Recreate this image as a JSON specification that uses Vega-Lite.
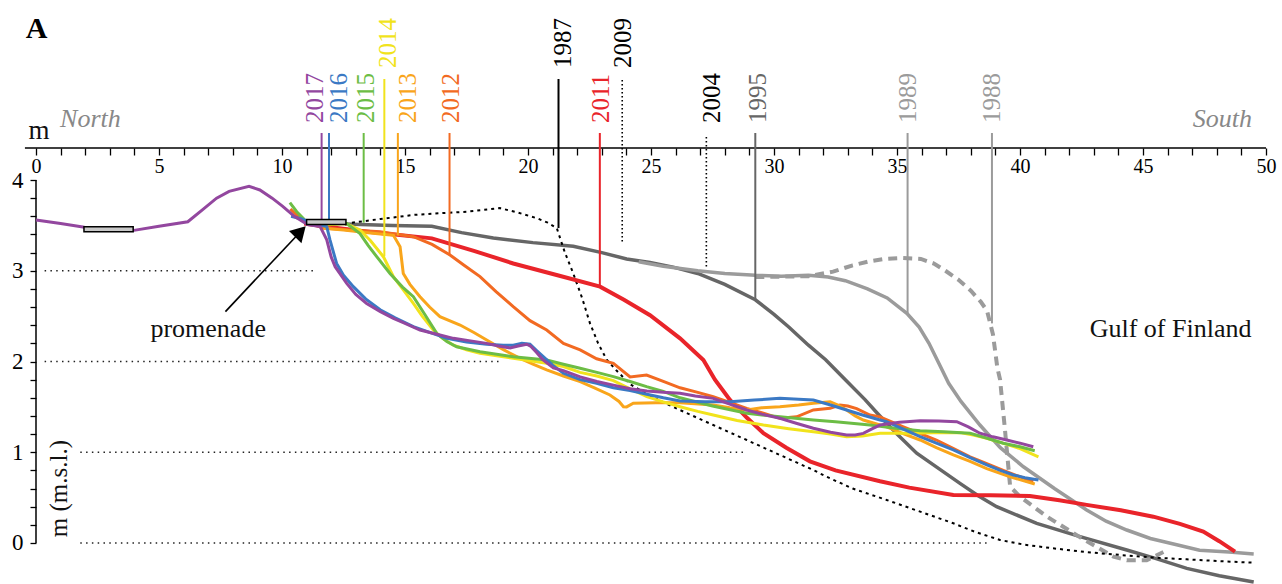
{
"$schema": "https://vega.github.io/schema/vega-lite/v6.json",
"width": 1282, "height": 584, "autosize": {"type": "none"}, "padding": 0,
"background": "white",
"config": {"view": {"stroke": null}, "text": {"font": "Liberation Serif"}},
"datasets": {
"refs": [{"x":0.35,"x2":11.4,"y":3},{"x":0.35,"x2":18.9,"y":2},{"x":1.8,"x2":28.8,"y":1},{"x":1.8,"x2":38.7,"y":0}],
"axl": [{"x":-0.45,"x2":50,"y":4.3526,"y2":4.3526},{"x":0,"x2":0,"y":0,"y2":4}],
"prof": [
{"s":"1995","x":12.56,"y":3.515},{"s":"1995","x":14.5,"y":3.5},{"s":"1995","x":16.09,"y":3.49},{"s":"1995","x":17.3,"y":3.42},{"s":"1995","x":18.59,"y":3.36},{"s":"1995","x":20.2,"y":3.31},{"s":"1995","x":21.84,"y":3.27},{"s":"1995","x":23.0,"y":3.2},{"s":"1995","x":24.01,"y":3.13},{"s":"1995","x":24.96,"y":3.09},{"s":"1995","x":25.9,"y":3.04},{"s":"1995","x":26.9,"y":2.97},{"s":"1995","x":28.0,"y":2.85},{"s":"1995","x":29.24,"y":2.68},{"s":"1995","x":30.0,"y":2.52},{"s":"1995","x":30.6,"y":2.38},{"s":"1995","x":31.4,"y":2.18},{"s":"1995","x":32.1,"y":2.02},{"s":"1995","x":32.9,"y":1.8},{"s":"1995","x":33.7,"y":1.58},{"s":"1995","x":34.2,"y":1.43},{"s":"1995","x":35.0,"y":1.2},{"s":"1995","x":35.8,"y":0.99},{"s":"1995","x":36.7,"y":0.82},{"s":"1995","x":37.56,"y":0.657},{"s":"1995","x":38.3,"y":0.52},{"s":"1995","x":39.05,"y":0.4},{"s":"1995","x":40.68,"y":0.216},{"s":"1995","x":42.44,"y":0.07},{"s":"1995","x":44.34,"y":-0.077},{"s":"1995","x":45.5,"y":-0.17},{"s":"1995","x":46.78,"y":-0.28},{"s":"1995","x":48.1,"y":-0.36},{"s":"1995","x":49.5,"y":-0.43},
{"s":"1989","x":24.5,"y":3.1},{"s":"1989","x":25.5,"y":3.05},{"s":"1989","x":26.9,"y":3.0},{"s":"1989","x":28.0,"y":2.97},{"s":"1989","x":29.24,"y":2.95},{"s":"1989","x":30.3,"y":2.94},{"s":"1989","x":31.4,"y":2.95},{"s":"1989","x":32.2,"y":2.93},{"s":"1989","x":32.9,"y":2.89},{"s":"1989","x":33.8,"y":2.8},{"s":"1989","x":34.6,"y":2.7},{"s":"1989","x":35.4,"y":2.53},{"s":"1989","x":35.9,"y":2.38},{"s":"1989","x":36.3,"y":2.2},{"s":"1989","x":36.7,"y":1.98},{"s":"1989","x":37.1,"y":1.76},{"s":"1989","x":37.6,"y":1.56},{"s":"1989","x":38.37,"y":1.3},{"s":"1989","x":39.2,"y":1.05},{"s":"1989","x":40.14,"y":0.84},{"s":"1989","x":41.4,"y":0.6},{"s":"1989","x":42.71,"y":0.364},{"s":"1989","x":43.5,"y":0.24},{"s":"1989","x":44.34,"y":0.143},{"s":"1989","x":45.3,"y":0.05},{"s":"1989","x":46.37,"y":-0.02},{"s":"1989","x":47.3,"y":-0.08},{"s":"1989","x":48.5,"y":-0.1},{"s":"1989","x":49.5,"y":-0.12},
{"s":"1988","x":29.24,"y":2.93},{"s":"1988","x":30.3,"y":2.935},{"s":"1988","x":31.4,"y":2.94},{"s":"1988","x":32.4,"y":2.99},{"s":"1988","x":33.2,"y":3.06},{"s":"1988","x":33.8,"y":3.1},{"s":"1988","x":34.5,"y":3.13},{"s":"1988","x":35.2,"y":3.14},{"s":"1988","x":35.97,"y":3.13},{"s":"1988","x":36.5,"y":3.08},{"s":"1988","x":36.97,"y":3.0},{"s":"1988","x":37.5,"y":2.9},{"s":"1988","x":38.0,"y":2.78},{"s":"1988","x":38.4,"y":2.66},{"s":"1988","x":38.66,"y":2.56},{"s":"1988","x":38.9,"y":2.3},{"s":"1988","x":39.08,"y":1.93},{"s":"1988","x":39.19,"y":1.8},{"s":"1988","x":39.39,"y":1.245},{"s":"1988","x":39.6,"y":0.62},{"s":"1988","x":40.0,"y":0.51},{"s":"1988","x":41.1,"y":0.29},{"s":"1988","x":42.4,"y":0.07},{"s":"1988","x":43.8,"y":-0.15},{"s":"1988","x":44.34,"y":-0.19},{"s":"1988","x":45.15,"y":-0.19},{"s":"1988","x":45.83,"y":-0.1},
{"s":"1987","x":12.56,"y":3.52},{"s":"1987","x":14.0,"y":3.57},{"s":"1987","x":15.34,"y":3.615},{"s":"1987","x":16.5,"y":3.635},{"s":"1987","x":17.5,"y":3.65},{"s":"1987","x":18.86,"y":3.69},{"s":"1987","x":19.6,"y":3.64},{"s":"1987","x":20.35,"y":3.58},{"s":"1987","x":20.8,"y":3.53},{"s":"1987","x":21.17,"y":3.47},{"s":"1987","x":21.5,"y":3.2},{"s":"1987","x":21.84,"y":2.97},{"s":"1987","x":22.2,"y":2.7},{"s":"1987","x":22.52,"y":2.42},{"s":"1987","x":22.85,"y":2.2},{"s":"1987","x":23.2,"y":2.02},{"s":"1987","x":23.6,"y":1.9},{"s":"1987","x":24.15,"y":1.75},{"s":"1987","x":24.83,"y":1.64},{"s":"1987","x":25.5,"y":1.55},{"s":"1987","x":26.18,"y":1.465},{"s":"1987","x":27.53,"y":1.3},{"s":"1987","x":28.89,"y":1.135},{"s":"1987","x":30.24,"y":0.97},{"s":"1987","x":31.6,"y":0.804},{"s":"1987","x":32.14,"y":0.73},{"s":"1987","x":33.2,"y":0.6},{"s":"1987","x":34.58,"y":0.474},{"s":"1987","x":36.0,"y":0.34},{"s":"1987","x":37.29,"y":0.217},{"s":"1987","x":38.2,"y":0.12},{"s":"1987","x":39.19,"y":0.033},{"s":"1987","x":40.2,"y":-0.02},{"s":"1987","x":41.35,"y":-0.059},{"s":"1987","x":42.7,"y":-0.1},{"s":"1987","x":44.07,"y":-0.132},{"s":"1987","x":45.4,"y":-0.16},{"s":"1987","x":46.78,"y":-0.18},{"s":"1987","x":48.1,"y":-0.2},{"s":"1987","x":49.5,"y":-0.217},
{"s":"2011","x":10.9,"y":3.52},{"s":"2011","x":11.82,"y":3.486},{"s":"2011","x":13.5,"y":3.43},{"s":"2011","x":16.09,"y":3.357},{"s":"2011","x":17.8,"y":3.22},{"s":"2011","x":19.4,"y":3.08},{"s":"2011","x":21.2,"y":2.95},{"s":"2011","x":22.93,"y":2.825},{"s":"2011","x":23.9,"y":2.68},{"s":"2011","x":24.96,"y":2.51},{"s":"2011","x":26.18,"y":2.255},{"s":"2011","x":27.13,"y":2.017},{"s":"2011","x":27.6,"y":1.8},{"s":"2011","x":28.21,"y":1.576},{"s":"2011","x":28.9,"y":1.38},{"s":"2011","x":29.57,"y":1.21},{"s":"2011","x":30.5,"y":1.05},{"s":"2011","x":31.46,"y":0.9},{"s":"2011","x":32.5,"y":0.8},{"s":"2011","x":34.31,"y":0.68},{"s":"2011","x":35.5,"y":0.61},{"s":"2011","x":37.29,"y":0.529},{"s":"2011","x":38.8,"y":0.525},{"s":"2011","x":40.4,"y":0.518},{"s":"2011","x":41.6,"y":0.47},{"s":"2011","x":42.71,"y":0.42},{"s":"2011","x":44.1,"y":0.36},{"s":"2011","x":45.42,"y":0.29},{"s":"2011","x":46.5,"y":0.21},{"s":"2011","x":47.45,"y":0.125},{"s":"2011","x":48.1,"y":0.02},{"s":"2011","x":48.74,"y":-0.096},
{"s":"2012","x":10.34,"y":3.68},{"s":"2012","x":10.8,"y":3.56},{"s":"2012","x":11.68,"y":3.47},{"s":"2012","x":12.8,"y":3.45},{"s":"2012","x":13.99,"y":3.43},{"s":"2012","x":15.34,"y":3.375},{"s":"2012","x":16.1,"y":3.29},{"s":"2012","x":16.83,"y":3.174},{"s":"2012","x":17.4,"y":3.06},{"s":"2012","x":18.05,"y":2.935},{"s":"2012","x":18.7,"y":2.77},{"s":"2012","x":19.4,"y":2.604},{"s":"2012","x":20.08,"y":2.45},{"s":"2012","x":20.76,"y":2.347},{"s":"2012","x":21.44,"y":2.2},{"s":"2012","x":22.12,"y":2.127},{"s":"2012","x":22.79,"y":2.03},{"s":"2012","x":23.47,"y":1.98},{"s":"2012","x":24.15,"y":1.83},{"s":"2012","x":24.82,"y":1.85},{"s":"2012","x":25.5,"y":1.78},{"s":"2012","x":26.18,"y":1.71},{"s":"2012","x":26.9,"y":1.66},{"s":"2012","x":27.53,"y":1.612},{"s":"2012","x":28.2,"y":1.55},{"s":"2012","x":28.89,"y":1.484},{"s":"2012","x":29.57,"y":1.43},{"s":"2012","x":30.24,"y":1.374},{"s":"2012","x":30.92,"y":1.39},{"s":"2012","x":31.6,"y":1.466},{"s":"2012","x":32.28,"y":1.484},{"s":"2012","x":32.68,"y":1.52},{"s":"2012","x":33.0,"y":1.51},{"s":"2012","x":33.36,"y":1.48},{"s":"2012","x":33.9,"y":1.41},{"s":"2012","x":34.31,"y":1.39},{"s":"2012","x":35.26,"y":1.28},{"s":"2012","x":35.9,"y":1.21},{"s":"2012","x":36.6,"y":1.135},{"s":"2012","x":37.3,"y":1.04},{"s":"2012","x":37.97,"y":0.95},{"s":"2012","x":38.6,"y":0.88},{"s":"2012","x":39.32,"y":0.8},{"s":"2012","x":40.0,"y":0.73},{"s":"2012","x":40.54,"y":0.676},
{"s":"2013","x":11.68,"y":3.468},{"s":"2013","x":12.5,"y":3.45},{"s":"2013","x":13.5,"y":3.42},{"s":"2013","x":14.2,"y":3.4},{"s":"2013","x":14.53,"y":3.39},{"s":"2013","x":14.8,"y":3.265},{"s":"2013","x":14.93,"y":2.97},{"s":"2013","x":15.2,"y":2.85},{"s":"2013","x":15.61,"y":2.714},{"s":"2013","x":16.0,"y":2.6},{"s":"2013","x":16.42,"y":2.494},{"s":"2013","x":17.24,"y":2.402},{"s":"2013","x":17.8,"y":2.32},{"s":"2013","x":18.32,"y":2.237},{"s":"2013","x":19.0,"y":2.13},{"s":"2013","x":19.68,"y":2.035},{"s":"2013","x":20.2,"y":1.97},{"s":"2013","x":20.76,"y":1.907},{"s":"2013","x":21.44,"y":1.84},{"s":"2013","x":22.12,"y":1.778},{"s":"2013","x":22.7,"y":1.71},{"s":"2013","x":23.33,"y":1.631},{"s":"2013","x":23.7,"y":1.56},{"s":"2013","x":23.88,"y":1.502},{"s":"2013","x":24.01,"y":1.5},{"s":"2013","x":24.28,"y":1.54},{"s":"2013","x":25.2,"y":1.546},{"s":"2013","x":26.18,"y":1.546},{"s":"2013","x":27.53,"y":1.52},{"s":"2013","x":28.2,"y":1.49},{"s":"2013","x":28.89,"y":1.466},{"s":"2013","x":29.5,"y":1.49},{"s":"2013","x":30.24,"y":1.502},{"s":"2013","x":31.0,"y":1.52},{"s":"2013","x":31.6,"y":1.54},{"s":"2013","x":32.28,"y":1.557},{"s":"2013","x":32.6,"y":1.52},{"s":"2013","x":32.95,"y":1.466},{"s":"2013","x":33.3,"y":1.4},{"s":"2013","x":33.63,"y":1.355},{"s":"2013","x":34.31,"y":1.3},{"s":"2013","x":34.58,"y":1.28},{"s":"2013","x":35.3,"y":1.2},{"s":"2013","x":35.94,"y":1.135},{"s":"2013","x":36.6,"y":1.05},{"s":"2013","x":37.29,"y":0.97},{"s":"2013","x":37.97,"y":0.9},{"s":"2013","x":38.65,"y":0.82},{"s":"2013","x":39.6,"y":0.73},{"s":"2013","x":40.6,"y":0.65},
{"s":"2014","x":11.6,"y":3.5},{"s":"2014","x":12.6,"y":3.52},{"s":"2014","x":13.17,"y":3.45},{"s":"2014","x":13.6,"y":3.33},{"s":"2014","x":14.12,"y":3.155},{"s":"2014","x":14.53,"y":2.935},{"s":"2014","x":14.9,"y":2.8},{"s":"2014","x":15.34,"y":2.64},{"s":"2014","x":15.7,"y":2.5},{"s":"2014","x":16.15,"y":2.347},{"s":"2014","x":16.5,"y":2.26},{"s":"2014","x":16.97,"y":2.18},{"s":"2014","x":17.5,"y":2.13},{"s":"2014","x":18.05,"y":2.09},{"s":"2014","x":19.4,"y":2.035},{"s":"2014","x":20.76,"y":1.98},{"s":"2014","x":21.44,"y":1.945},{"s":"2014","x":22.12,"y":1.88},{"s":"2014","x":22.8,"y":1.84},{"s":"2014","x":23.47,"y":1.79},{"s":"2014","x":24.15,"y":1.7},{"s":"2014","x":24.83,"y":1.612},{"s":"2014","x":25.5,"y":1.555},{"s":"2014","x":26.18,"y":1.502},{"s":"2014","x":26.9,"y":1.45},{"s":"2014","x":27.53,"y":1.41},{"s":"2014","x":28.5,"y":1.35},{"s":"2014","x":29.57,"y":1.3},{"s":"2014","x":30.6,"y":1.26},{"s":"2014","x":31.6,"y":1.227},{"s":"2014","x":32.3,"y":1.2},{"s":"2014","x":32.95,"y":1.17},{"s":"2014","x":33.6,"y":1.18},{"s":"2014","x":34.31,"y":1.208},{"s":"2014","x":35.5,"y":1.21},{"s":"2014","x":36.5,"y":1.215},{"s":"2014","x":37.56,"y":1.216},{"s":"2014","x":38.1,"y":1.19},{"s":"2014","x":38.65,"y":1.153},{"s":"2014","x":39.3,"y":1.1},{"s":"2014","x":40.0,"y":1.04},{"s":"2014","x":40.75,"y":0.95},
{"s":"2015","x":10.32,"y":3.75},{"s":"2015","x":10.6,"y":3.65},{"s":"2015","x":11.0,"y":3.54},{"s":"2015","x":11.8,"y":3.52},{"s":"2015","x":12.63,"y":3.52},{"s":"2015","x":13.17,"y":3.41},{"s":"2015","x":13.5,"y":3.28},{"s":"2015","x":13.85,"y":3.155},{"s":"2015","x":14.39,"y":2.97},{"s":"2015","x":14.9,"y":2.82},{"s":"2015","x":15.34,"y":2.714},{"s":"2015","x":15.8,"y":2.52},{"s":"2015","x":16.29,"y":2.31},{"s":"2015","x":16.7,"y":2.22},{"s":"2015","x":17.1,"y":2.163},{"s":"2015","x":18.05,"y":2.108},{"s":"2015","x":19.4,"y":2.053},{"s":"2015","x":20.76,"y":2.017},{"s":"2015","x":21.44,"y":1.97},{"s":"2015","x":22.12,"y":1.925},{"s":"2015","x":22.8,"y":1.88},{"s":"2015","x":23.47,"y":1.833},{"s":"2015","x":24.15,"y":1.78},{"s":"2015","x":24.82,"y":1.723},{"s":"2015","x":25.5,"y":1.67},{"s":"2015","x":26.18,"y":1.6},{"s":"2015","x":27.5,"y":1.51},{"s":"2015","x":28.89,"y":1.43},{"s":"2015","x":30.24,"y":1.39},{"s":"2015","x":31.6,"y":1.355},{"s":"2015","x":32.5,"y":1.335},{"s":"2015","x":33.9,"y":1.3},{"s":"2015","x":34.31,"y":1.285},{"s":"2015","x":35.1,"y":1.26},{"s":"2015","x":35.94,"y":1.238},{"s":"2015","x":36.9,"y":1.225},{"s":"2015","x":37.97,"y":1.21},{"s":"2015","x":38.6,"y":1.16},{"s":"2015","x":39.32,"y":1.1},{"s":"2015","x":40.0,"y":1.06},{"s":"2015","x":40.6,"y":1.017},
{"s":"2016","x":10.37,"y":3.6},{"s":"2016","x":10.8,"y":3.57},{"s":"2016","x":11.27,"y":3.52},{"s":"2016","x":11.82,"y":3.486},{"s":"2016","x":11.95,"y":3.34},{"s":"2016","x":12.22,"y":3.08},{"s":"2016","x":12.5,"y":2.95},{"s":"2016","x":12.9,"y":2.825},{"s":"2016","x":13.4,"y":2.69},{"s":"2016","x":13.99,"y":2.57},{"s":"2016","x":14.6,"y":2.48},{"s":"2016","x":15.34,"y":2.384},{"s":"2016","x":16.0,"y":2.32},{"s":"2016","x":16.7,"y":2.255},{"s":"2016","x":17.5,"y":2.215},{"s":"2016","x":18.32,"y":2.19},{"s":"2016","x":19.0,"y":2.18},{"s":"2016","x":19.4,"y":2.18},{"s":"2016","x":19.75,"y":2.2},{"s":"2016","x":20.08,"y":2.19},{"s":"2016","x":20.35,"y":2.12},{"s":"2016","x":20.62,"y":2.053},{"s":"2016","x":21.0,"y":1.96},{"s":"2016","x":21.44,"y":1.87},{"s":"2016","x":22.12,"y":1.8},{"s":"2016","x":22.79,"y":1.76},{"s":"2016","x":23.47,"y":1.71},{"s":"2016","x":24.15,"y":1.68},{"s":"2016","x":24.83,"y":1.64},{"s":"2016","x":25.5,"y":1.6},{"s":"2016","x":26.18,"y":1.565},{"s":"2016","x":27.2,"y":1.557},{"s":"2016","x":28.21,"y":1.557},{"s":"2016","x":29.2,"y":1.575},{"s":"2016","x":30.24,"y":1.594},{"s":"2016","x":31.0,"y":1.585},{"s":"2016","x":31.6,"y":1.576},{"s":"2016","x":32.3,"y":1.52},{"s":"2016","x":32.95,"y":1.466},{"s":"2016","x":33.6,"y":1.41},{"s":"2016","x":34.31,"y":1.355},{"s":"2016","x":34.58,"y":1.337},{"s":"2016","x":35.3,"y":1.25},{"s":"2016","x":35.94,"y":1.172},{"s":"2016","x":36.6,"y":1.1},{"s":"2016","x":37.29,"y":1.025},{"s":"2016","x":37.97,"y":0.94},{"s":"2016","x":38.65,"y":0.86},{"s":"2016","x":39.2,"y":0.8},{"s":"2016","x":39.73,"y":0.75},{"s":"2016","x":40.2,"y":0.72},{"s":"2016","x":40.75,"y":0.694},
{"s":"2017","x":0,"y":3.56},{"s":"2017","x":1,"y":3.52},{"s":"2017","x":1.97,"y":3.48},{"s":"2017","x":3,"y":3.46},{"s":"2017","x":3.98,"y":3.445},{"s":"2017","x":5,"y":3.49},{"s":"2017","x":6.17,"y":3.54},{"s":"2017","x":6.8,"y":3.68},{"s":"2017","x":7.34,"y":3.8},{"s":"2017","x":7.85,"y":3.875},{"s":"2017","x":8.66,"y":3.93},{"s":"2017","x":9.1,"y":3.89},{"s":"2017","x":9.6,"y":3.8},{"s":"2017","x":10.03,"y":3.71},{"s":"2017","x":10.5,"y":3.6},{"s":"2017","x":11.04,"y":3.51},{"s":"2017","x":11.55,"y":3.486},{"s":"2017","x":11.82,"y":3.34},{"s":"2017","x":12.0,"y":3.15},{"s":"2017","x":12.16,"y":3.045},{"s":"2017","x":12.63,"y":2.86},{"s":"2017","x":13.0,"y":2.74},{"s":"2017","x":13.44,"y":2.64},{"s":"2017","x":14.0,"y":2.55},{"s":"2017","x":14.53,"y":2.476},{"s":"2017","x":15.0,"y":2.42},{"s":"2017","x":15.61,"y":2.347},{"s":"2017","x":16.3,"y":2.3},{"s":"2017","x":16.97,"y":2.255},{"s":"2017","x":17.6,"y":2.23},{"s":"2017","x":18.32,"y":2.2},{"s":"2017","x":18.8,"y":2.17},{"s":"2017","x":19.27,"y":2.15},{"s":"2017","x":19.6,"y":2.17},{"s":"2017","x":19.95,"y":2.19},{"s":"2017","x":20.1,"y":2.17},{"s":"2017","x":20.35,"y":2.1},{"s":"2017","x":20.6,"y":2.02},{"s":"2017","x":21.03,"y":1.93},{"s":"2017","x":21.44,"y":1.9},{"s":"2017","x":22.12,"y":1.83},{"s":"2017","x":22.8,"y":1.78},{"s":"2017","x":23.47,"y":1.74},{"s":"2017","x":24.15,"y":1.7},{"s":"2017","x":24.83,"y":1.675},{"s":"2017","x":25.5,"y":1.66},{"s":"2017","x":26.18,"y":1.65},{"s":"2017","x":26.8,"y":1.62},{"s":"2017","x":27.53,"y":1.594},{"s":"2017","x":28.2,"y":1.53},{"s":"2017","x":28.89,"y":1.466},{"s":"2017","x":29.5,"y":1.42},{"s":"2017","x":30.24,"y":1.374},{"s":"2017","x":30.9,"y":1.32},{"s":"2017","x":31.6,"y":1.264},{"s":"2017","x":32.3,"y":1.22},{"s":"2017","x":32.95,"y":1.19},{"s":"2017","x":33.3,"y":1.19},{"s":"2017","x":33.63,"y":1.208},{"s":"2017","x":34.0,"y":1.26},{"s":"2017","x":34.31,"y":1.3},{"s":"2017","x":35.1,"y":1.33},{"s":"2017","x":35.94,"y":1.348},{"s":"2017","x":36.7,"y":1.345},{"s":"2017","x":37.43,"y":1.337},{"s":"2017","x":37.9,"y":1.28},{"s":"2017","x":38.37,"y":1.21},{"s":"2017","x":38.9,"y":1.17},{"s":"2017","x":39.46,"y":1.135},{"s":"2017","x":40.0,"y":1.1},{"s":"2017","x":40.54,"y":1.06}
],
"mk": [
{"s":"2017","x":11.61,"y":4.518,"y2":3.54},{"s":"2016","x":11.91,"y":4.518,"y2":3.54},{"s":"2015","x":13.32,"y":4.518,"y2":3.53},{"s":"2014","x":14.16,"y":5.113,"y2":3.16},{"s":"2013","x":14.71,"y":4.518,"y2":3.39},{"s":"2012","x":16.81,"y":4.518,"y2":3.17},{"s":"1987","x":21.24,"y":5.113,"y2":3.47},{"s":"2011","x":22.92,"y":4.518,"y2":2.82},{"s":"1995","x":29.24,"y":4.518,"y2":2.68},{"s":"1989","x":35.43,"y":4.518,"y2":2.53},{"s":"1988","x":38.86,"y":4.518,"y2":2.42}
],
"mkd": [{"s":"2009","x":23.83,"y":5.102,"y2":3.32},{"s":"2004","x":27.25,"y":4.474,"y2":3.03}],
"lab": [
{"s":"2017","x":11.33,"y":4.628},{"s":"2016","x":12.3,"y":4.628},{"s":"2015","x":13.42,"y":4.628},{"s":"2014","x":14.3,"y":5.234},{"s":"2013","x":15.13,"y":4.628},{"s":"2012","x":16.86,"y":4.628},{"s":"1987","x":21.43,"y":5.234},{"s":"2011","x":22.97,"y":4.628},{"s":"2009","x":23.86,"y":5.234},{"s":"2004","x":27.48,"y":4.628},{"s":"1995","x":29.33,"y":4.628},{"s":"1989","x":35.43,"y":4.628},{"s":"1988","x":38.86,"y":4.628}
],
"boxes": [{"x":1.95,"x2":3.95,"y":3.43,"y2":3.485},{"x":11.0,"x2":12.6,"y":3.51,"y2":3.565}],
"arrow": [{"x":7.7,"y":2.55,"x2":10.75,"y2":3.43}],
"head": [{"x":10.75,"y":3.43}]
},
"encoding": {
"x": {"field":"x","type":"quantitative","scale":{"domain":[-1.4634,50.6504],"nice":false,"zero":false},
 "axis":{"orient":"bottom","offset":-436,"domain":false,"grid":false,"title":null,
 "values":[0,1,2,3,4,5,6,7,8,9,10,11,12,13,14,15,16,17,18,19,20,21,22,23,24,25,26,27,28,29,30,31,32,33,34,35,36,37,38,39,40,41,42,43,44,45,46,47,48,49,50],
 "labelExpr":"datum.value % 5 === 0 ? '' + datum.value : ''","tickSize":7,"tickColor":"#000","tickWidth":1.3,
 "labelFont":"Liberation Serif","labelFontSize":20,"labelColor":"#000","labelPadding":1,"labelFlush":false,"labelOverlap":false,"labelBound":false}},
"y": {"field":"y","type":"quantitative","scale":{"domain":[-0.4518,5.9835],"nice":false,"zero":false},
 "axis":{"orient":"left","offset":-36,"domain":false,"grid":false,"title":null,
 "values":[0,0.2,0.4,0.6,0.8,1,1.2,1.4,1.6,1.8,2,2.2,2.4,2.6,2.8,3,3.2,3.4,3.6,3.8,4],
 "labelExpr":"datum.value % 1 === 0 ? '' + datum.value : ''","tickSize":6,"tickColor":"#000","tickWidth":1.3,
 "labelFont":"Liberation Serif","labelFontSize":23,"labelColor":"#000","labelPadding":7,"labelFlush":false,"labelOverlap":false,"labelBound":false}}
},
"layer": [
{"data":{"name":"refs"},"mark":{"type":"rule","strokeDash":[1.5,4.3],"strokeWidth":1.6,"color":"#222"},"encoding":{"x2":{"field":"x2"}}},
{"data":{"name":"axl"},"mark":{"type":"rule","strokeWidth":1.5,"color":"#000"},"encoding":{"x2":{"field":"x2"},"y2":{"field":"y2"}}},
{"data":{"name":"prof"},"transform":[{"filter":{"field":"s","oneOf":["1995","1989"]}}],"mark":{"type":"line","strokeWidth":3.5},
 "encoding":{"color":{"field":"s","type":"nominal","legend":null,"scale":{"domain":["2017","2016","2015","2014","2013","2012","2011","2009","2004","1995","1989","1988","1987"],"range":["#93479f","#3b79c4","#6cbd45","#f1e31c","#f9a51b","#f26a22","#e9242a","#000000","#000000","#666666","#9b9b9b","#9b9b9b","#000000"]}}}},
{"data":{"name":"prof"},"transform":[{"filter":{"field":"s","equal":"1988"}}],"mark":{"type":"line","strokeWidth":4,"strokeDash":[9,6]},
 "encoding":{"color":{"field":"s","type":"nominal","legend":null}}},
{"data":{"name":"prof"},"transform":[{"filter":{"field":"s","equal":"1987"}}],"mark":{"type":"line","strokeWidth":2,"strokeDash":[3,4]},
 "encoding":{"color":{"field":"s","type":"nominal","legend":null}}},
{"data":{"name":"prof"},"transform":[{"filter":{"field":"s","equal":"2011"}}],"mark":{"type":"line","strokeWidth":4},
 "encoding":{"color":{"field":"s","type":"nominal","legend":null}}},
{"data":{"name":"prof"},"transform":[{"filter":{"field":"s","oneOf":["2012","2013","2014","2015","2016","2017"]}}],"mark":{"type":"line","strokeWidth":3},
 "encoding":{"color":{"field":"s","type":"nominal","legend":null}}},
{"data":{"name":"mk"},"mark":{"type":"rule","strokeWidth":2},"encoding":{"y2":{"field":"y2"},"color":{"field":"s","type":"nominal","legend":null}}},
{"data":{"name":"mkd"},"mark":{"type":"rule","strokeWidth":1.6,"strokeDash":[1.5,2.5]},"encoding":{"y2":{"field":"y2"},"color":{"field":"s","type":"nominal","legend":null}}},
{"data":{"name":"lab"},"mark":{"type":"text","angle":270,"align":"left","baseline":"middle","fontSize":25,"font":"Liberation Serif"},
 "encoding":{"text":{"field":"s"},"color":{"field":"s","type":"nominal","legend":null}}},
{"data":{"name":"boxes"},"mark":{"type":"rect","fill":"#c8c8c8","stroke":"#000","strokeWidth":1.5},"encoding":{"x2":{"field":"x2"},"y2":{"field":"y2"}}},
{"data":{"name":"arrow"},"mark":{"type":"rule","strokeWidth":1.6,"color":"#000"},"encoding":{"x2":{"field":"x2"},"y2":{"field":"y2"}}},
{"data":{"name":"head"},"mark":{"type":"point","shape":"triangle-up","filled":true,"color":"#000","opacity":1,"size":300,"angle":44}},
{"data":{"values":[{"t":"promenade","x":7.0,"y":2.27},{"t":"Gulf of Finland","x":46.12,"y":2.27}]},
 "mark":{"type":"text","fontSize":26,"align":"center","baseline":"alphabetic","color":"#111"},"encoding":{"text":{"field":"t"}}},
{"data":{"values":[{"t":"m","x":0.12,"y":4.45}]},"mark":{"type":"text","fontSize":27,"align":"center","baseline":"alphabetic","color":"#111"},"encoding":{"text":{"field":"t"}}},
{"data":{"values":[{"t":"m (m.s.l.)","x":0.95,"y":0.6}]},"mark":{"type":"text","fontSize":25,"angle":270,"align":"center","baseline":"middle","color":"#111"},"encoding":{"text":{"field":"t"}}},
{"data":{"values":[{"t":"North","x":0.98,"y":4.585}]},"mark":{"type":"text","fontSize":26,"fontStyle":"italic","align":"left","baseline":"alphabetic","color":"#888"},"encoding":{"text":{"field":"t"}}},
{"data":{"values":[{"t":"South","x":49.43,"y":4.585}]},"mark":{"type":"text","fontSize":26,"fontStyle":"italic","align":"right","baseline":"alphabetic","color":"#888"},"encoding":{"text":{"field":"t"}}},
{"data":{"values":[{"t":"A","x":0.02,"y":5.57}]},"mark":{"type":"text","fontSize":30,"fontWeight":"bold","align":"center","baseline":"alphabetic","color":"#000"},"encoding":{"text":{"field":"t"}}}
]
}
